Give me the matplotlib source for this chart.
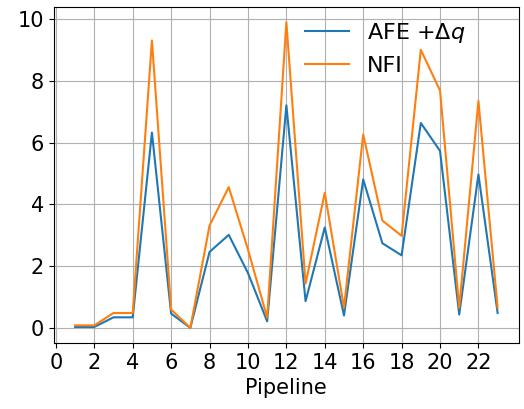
import numpy as np
from matplotlib import pyplot as plt

pipeline = np.arange(1, 24)
afe = [0.05, 0.05, 0.36, 0.36, 6.32, 0.48, 0.02, 2.47, 3.02, 1.79, 0.23, 7.2,
       0.88, 3.26, 0.42, 4.81, 2.75, 2.36, 6.63, 5.73, 0.45, 4.97, 0.5]
nfi = [0.1, 0.1, 0.5, 0.5, 9.29, 0.61, 0.02, 3.32, 4.56, 2.55, 0.35, 9.88,
       1.45, 4.38, 0.67, 6.26, 3.48, 2.99, 8.99, 7.68, 0.67, 7.34, 0.67]

fig = plt.figure(figsize=(5.24, 4.09), dpi=100)
ax = fig.add_axes([0.103, 0.161, 0.887, 0.822])
ax.plot(pipeline, afe, label=r'AFE $+\Delta q$')
ax.plot(pipeline, nfi, label='NFI')
ax.set_xticks(np.arange(0, 24, 2))
ax.tick_params(labelsize=15)
ax.set_xlabel('Pipeline', fontsize=15)
ax.grid(True)
ax.legend(loc='upper left', bbox_to_anchor=(0.52, 0.985), borderaxespad=0,
          fontsize=16, frameon=False)
fig.savefig('out.png')
